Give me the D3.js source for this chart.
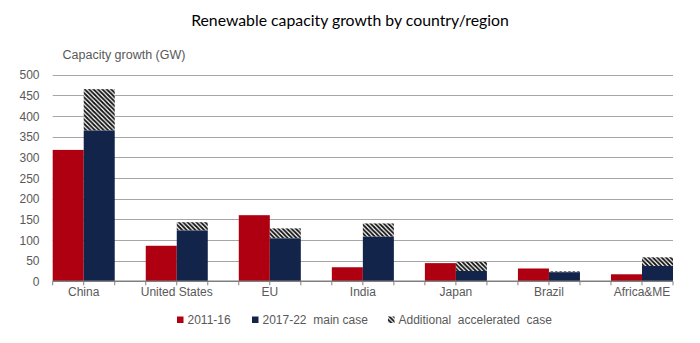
<!DOCTYPE html>
<html>
<head>
<meta charset="utf-8">
<script src="https://cdn.jsdelivr.net/npm/d3@7"></script>
<style>
  html, body { margin: 0; padding: 0; background: #fff; }
  svg { display: block; }
  .lbl { font-family: "Liberation Sans", Arial, sans-serif; fill: #595959; font-size: 12px; }
  .title { font-family: Lato, "Open Sans", "Noto Sans", sans-serif; fill: #000; font-size: 15.8px; }
</style>
</head>
<body>
<svg id="chart" width="700" height="343"></svg>
<script>
// Renewable capacity growth (GW) by country/region
const regions = ["China", "United States", "EU", "India", "Japan", "Brazil", "Africa&ME"];
const growth2011_16 = [318, 86, 160, 34, 44, 31, 17];
const mainCase2017_22 = [365, 123, 104, 108, 25, 22, 37];
const acceleratedCase2017_22 = [465, 143, 128, 140, 47, 24, 58];
const yTicks = [0, 50, 100, 150, 200, 250, 300, 350, 400, 450, 500];
const legendLabels = ["2011-16", "2017-22  main case", "Additional  accelerated  case"];

const RED = "#ae0011";
const NAVY = "#13244b";

const svg = d3.select("#chart");
const plot = { left: 52.7, right: 673, top: 74.7, bottom: 281.3 };

const y = d3.scaleLinear().domain([0, 500]).range([plot.bottom, plot.top]);
const x = d3.scaleBand().domain(regions).range([plot.left, plot.right])
  .paddingInner(1 / 3).paddingOuter(0).align(0);
const sub = d3.scaleBand().domain(["a", "b"]).range([0, x.bandwidth()]);

// hatch pattern for the accelerated-case increment
const defs = svg.append("defs");
const pat = defs.append("pattern").attr("id", "hatch")
  .attr("patternUnits", "userSpaceOnUse").attr("width", 4.4).attr("height", 4.4);
pat.append("rect").attr("width", 4.4).attr("height", 4.4).attr("fill", "#fff");
pat.append("path").attr("d", "M-1,-1 L5.4,5.4 M-1,3.4 L1,5.4 M3.4,-1 L5.4,1")
  .attr("stroke", "#111").attr("stroke-width", 1.8);

// title
svg.append("text").attr("class", "title").attr("x", 350).attr("y", 26)
  .attr("text-anchor", "middle").text("Renewable capacity growth by country/region");

svg.append("text").attr("class", "lbl").attr("x", 62.5).attr("y", 58.5)
  .style("font-size", "12.5px").text("Capacity growth (GW)");

// gridlines
svg.append("g").selectAll("line").data(yTicks.filter(d => d > 0)).join("line")
  .attr("x1", plot.left).attr("x2", plot.right)
  .attr("y1", d => Math.round(y(d)) + 0.5).attr("y2", d => Math.round(y(d)) + 0.5)
  .attr("stroke", "#a6a6a6").attr("stroke-width", 1.2);

// y axis labels
const yAxis = d3.axisLeft(y).tickValues(yTicks).tickSize(0).tickPadding(0);
const yg = svg.append("g").attr("transform", `translate(39.5,0)`).call(yAxis);
yg.select(".domain").remove();
yg.selectAll("text").attr("class", "lbl").attr("fill", null).attr("font-size", null)
  .attr("font-family", null).attr("dy", "0.35em");

// bars
const groups = svg.append("g").selectAll("g").data(regions).join("g")
  .attr("transform", d => `translate(${x(d)},0)`);

groups.append("rect")
  .attr("x", sub("a")).attr("width", sub.bandwidth())
  .attr("y", (d, i) => y(growth2011_16[i]))
  .attr("height", (d, i) => y(0) - y(growth2011_16[i]))
  .attr("fill", RED);

groups.append("rect")
  .attr("x", sub("b")).attr("width", sub.bandwidth())
  .attr("y", (d, i) => y(acceleratedCase2017_22[i]))
  .attr("height", (d, i) => y(mainCase2017_22[i]) - y(acceleratedCase2017_22[i]))
  .attr("fill", "url(#hatch)");

groups.append("rect")
  .attr("x", sub("b")).attr("width", sub.bandwidth())
  .attr("y", (d, i) => y(mainCase2017_22[i]))
  .attr("height", (d, i) => y(0) - y(mainCase2017_22[i]))
  .attr("fill", NAVY);

// x axis line and ticks at group edges and middles
svg.append("line").attr("x1", plot.left).attr("x2", plot.right)
  .attr("y1", y(0)).attr("y2", y(0)).attr("stroke", "#7f7f7f").attr("stroke-width", 1.5);
const tickXs = [];
regions.forEach(r => { tickXs.push(x(r), x(r) + x.bandwidth() / 2, x(r) + x.bandwidth()); });
svg.append("g").selectAll("line").data(tickXs).join("line")
  .attr("x1", d => d).attr("x2", d => d)
  .attr("y1", y(0)).attr("y2", y(0) + 4)
  .attr("stroke", "#7f7f7f").attr("stroke-width", 1);

svg.append("g").selectAll("text").data(regions).join("text")
  .attr("class", "lbl").attr("text-anchor", "middle")
  .attr("x", d => x(d) + x.bandwidth() / 2).attr("y", 295.5)
  .text(d => d);

// legend
const legendX = [177, 252, 388];
const legendFill = [RED, NAVY, "url(#hatch)"];
const lg = svg.append("g").selectAll("g").data(legendLabels).join("g")
  .attr("transform", (d, i) => `translate(${legendX[i]},324)`);
lg.append("rect").attr("x", 0).attr("y", -7.5).attr("width", 6.5).attr("height", 6.5)
  .attr("fill", (d, i) => legendFill[i]);
lg.append("text").attr("class", "lbl").attr("x", 10.5).attr("y", 0)
  .style("white-space", "pre").text(d => d);
</script>
</body>
</html>
